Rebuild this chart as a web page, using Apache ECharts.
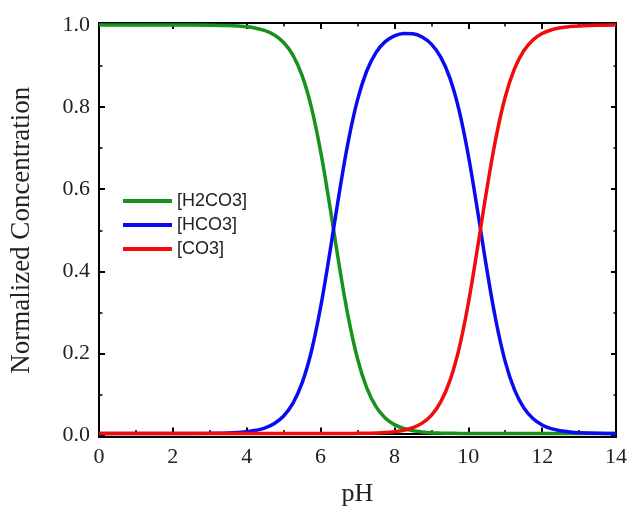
<!DOCTYPE html>
<html>
<head>
<meta charset="utf-8">
<style>html,body{margin:0;padding:0;background:#fff;}#c{width:630px;height:512px;}</style>
<script src="https://cdn.jsdelivr.net/npm/echarts@6/dist/echarts.min.js"></script>
</head>
<body>
<div id="c"></div>
<script>
var pH = [0,1,2,3,3.5,4,4.25,4.5,4.75,5,5.25,5.5,5.75,6,6.25,6.5,6.75,7,7.25,7.5,7.75,8,8.25,8.5,8.75,9,9.25,9.5,9.75,10,10.25,10.5,10.75,11,11.25,11.5,11.75,12,12.25,12.5,12.75,13,13.5,14];
var h2co3 = [1,1,1,0.9996,0.9986,0.9956,0.9921,0.9861,0.9755,0.9572,0.9264,0.8762,0.7992,0.6912,0.5573,0.4145,0.2848,0.1829,0.1118,0.0660,0.0382,0.0218,0.0123,0.0069,0.0039,0.0021,0.0012,0.0006,0.0003,0.0002,0.0001,0,0,0,0,0,0,0,0,0,0,0,0,0];
var hco3 = [0,0,0,0.0004,0.0014,0.0044,0.0079,0.0139,0.0245,0.0428,0.0736,0.1238,0.2008,0.3088,0.4427,0.5854,0.7151,0.8167,0.8875,0.9326,0.9593,0.9737,0.9795,0.9786,0.9706,0.9533,0.9221,0.8706,0.7918,0.6813,0.5459,0.4034,0.2755,0.1761,0.1073,0.0633,0.0366,0.0209,0.0119,0.0067,0.0038,0.0021,0.0007,0.0002];
var co3 = [0,0,0,0,0,0,0,0,0,0,0,0,0,0,0,0.0001,0.0002,0.0004,0.0007,0.0014,0.0025,0.0046,0.0081,0.0145,0.0255,0.0446,0.0767,0.1288,0.2079,0.3185,0.4540,0.5966,0.7245,0.8239,0.8927,0.9367,0.9634,0.9791,0.9881,0.9933,0.9962,0.9979,0.9993,0.9998];
var seriesNames = ['[H2CO3]','[HCO3]','[CO3]'];
var colors = ['#17921a','#0b0bf2','#f20b0b'];
var xTicks = [0,14,2];
var yTicks = [0,1,0.2];

function pairs(ys){ return pH.map(function(x,i){ return [x, ys[i]]; }); }
var serif = 'Liberation Serif';
var chart = echarts.init(document.getElementById('c'), null, {renderer:'canvas'});
var tickStyle = {show:true, inside:true, length:6, lineStyle:{color:'#000', width:2}};
var minorStyle = {show:true, splitNumber:2, length:3.5, lineStyle:{color:'#000', width:1.5}};
chart.setOption({
  animation:false,
  backgroundColor:'#fff',
  grid:[
    {left:99, right:13, top:23, bottom:73, show:true, borderColor:'#000', borderWidth:2, backgroundColor:'transparent'},
    {left:99, right:13, top:25, bottom:76.5}
  ],
  legend:{
    orient:'vertical', left:118, top:187, itemWidth:49, itemHeight:4, itemGap:6,
    icon:'rect',
    textStyle:{fontFamily:'Liberation Sans', fontSize:18, color:'#222'},
    data:seriesNames
  },
  xAxis:[
    {gridIndex:0, type:'value', min:xTicks[0], max:xTicks[1], interval:xTicks[2], position:'bottom',
     name:'pH', nameLocation:'middle', nameGap:44, nameTextStyle:{fontFamily:serif, fontSize:26, color:'#222'},
     axisLine:{show:true, lineStyle:{color:'#000', width:2}},
     axisTick:tickStyle, minorTick:minorStyle, splitLine:{show:false},
     axisLabel:{fontFamily:serif, fontSize:22, color:'#222', margin:9}},
    {gridIndex:0, type:'value', min:xTicks[0], max:xTicks[1], interval:xTicks[2], position:'top',
     axisLine:{show:true, lineStyle:{color:'#000', width:2}},
     axisTick:tickStyle, minorTick:minorStyle, splitLine:{show:false}, axisLabel:{show:false}},
    {gridIndex:1, type:'value', min:xTicks[0], max:xTicks[1], show:false}
  ],
  yAxis:[
    {gridIndex:0, type:'value', min:-0.0085, max:1.005, show:false, splitLine:{show:false}},
    {gridIndex:1, type:'value', min:yTicks[0], max:yTicks[1], interval:yTicks[2], position:'left',
     name:'Normalized Concentration', nameLocation:'middle', nameGap:64, nameRotate:90,
     nameTextStyle:{fontFamily:serif, fontSize:27, color:'#222'},
     axisLine:{show:false}, axisTick:tickStyle, minorTick:minorStyle, splitLine:{show:false},
     axisLabel:{fontFamily:serif, fontSize:22, color:'#222', margin:9, formatter:function(v){return v.toFixed(1);}}},
    {gridIndex:1, type:'value', min:yTicks[0], max:yTicks[1], interval:yTicks[2], position:'right',
     axisLine:{show:false}, axisTick:tickStyle, minorTick:minorStyle, splitLine:{show:false}, axisLabel:{show:false}}
  ],
  series:[h2co3, hco3, co3].map(function(ys, k){
    return {name:seriesNames[k], type:'line', xAxisIndex:0, yAxisIndex:0, data:pairs(ys),
      smooth:0.4, symbol:'none', lineStyle:{color:colors[k], width:3.5}, itemStyle:{color:colors[k]}, z:3};
  })
});
</script>
</body>
</html>
